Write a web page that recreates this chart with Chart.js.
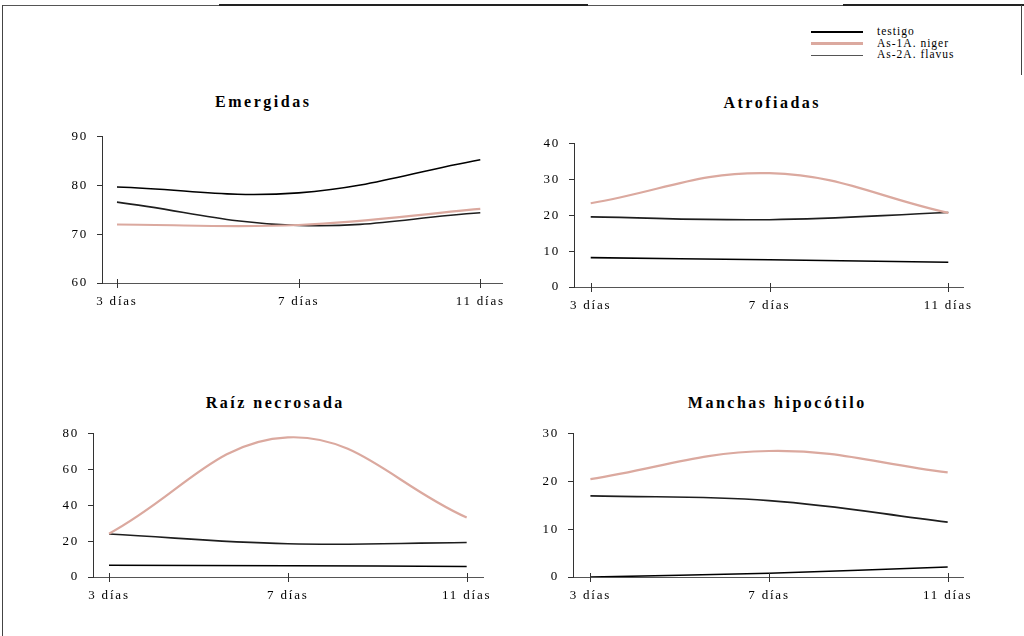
<!DOCTYPE html>
<html>
<head>
<meta charset="utf-8">
<script src="https://cdn.jsdelivr.net/npm/chart.js@4.4.1/dist/chart.umd.min.js"></script>
<style>
  html, body { margin: 0; padding: 0; background: #fff; }
  #page { position: relative; width: 1024px; height: 636px; overflow: hidden;
          font-family: 'Liberation Serif', 'Times New Roman', serif; color: #000; }
  #page canvas { position: absolute; }
  .title { position: absolute; transform: translate(-50%, -50%); font-weight: bold;
           font-size: 16px; letter-spacing: 2.5px; white-space: nowrap; padding-left: 2.5px; }
  .rule { position: absolute; }
  .key { position: absolute; height: 0; }
  .key .swatch { position: absolute; left: 0; width: 52px; }
  .key .label { position: absolute; left: 66px; top: 0; transform: translateY(-55%);
                font-size: 11.5px; letter-spacing: 1px; white-space: nowrap; }
</style>
</head>
<body>
<div id="page"></div>
<script>
// Days after sowing (x values) and their tick labels
const days = [3, 7, 11];
const dayLabels = ['3 días', '7 días', '11 días'];

// Treatments
const seriesNames = ['testigo', 'As-1A. niger', 'As-2A. flavus'];
const seriesColors = ['#000000', '#dba99f', '#1e1e1e'];
const seriesWidths = [1.6, 2.2, 1.6];

// Emergidas (%)
const emergidasTestigo = [79.7, 78.5, 85.3];
const emergidasNiger   = [72.0, 71.9, 75.2];
const emergidasFlavus  = [76.6, 71.8, 74.4];
const emergidasTicks   = [60, 70, 80, 90];

// Atrofiadas (%)
const atrofiadasTestigo = [8.2, 7.6, 6.9];
const atrofiadasNiger   = [23.4, 31.8, 20.7];
const atrofiadasFlavus  = [19.6, 18.8, 20.8];
const atrofiadasTicks   = [0, 10, 20, 30, 40];

// Raíz necrosada (%)
const raizTestigo = [6.6, 6.3, 5.9];
const raizNiger   = [24.2, 78.0, 33.2];
const raizFlavus  = [24.0, 18.6, 19.3];
const raizTicks   = [0, 20, 40, 60, 80];

// Manchas hipocótilo (%)
const manchasTestigo = [0.0, 0.8, 2.1];
const manchasNiger   = [20.5, 26.4, 21.9];
const manchasFlavus  = [17.0, 16.0, 11.5];
const manchasTicks   = [0, 10, 20, 30];

// Panel placement on the page
const panels = [
  { title: 'Emergidas', series: [emergidasTestigo, emergidasNiger, emergidasFlavus], ticks: emergidasTicks,
    box: { left: 40, top: 120, width: 492, height: 200, axisW: 62, xH: 37 }, xRange: [2.67, 11.478],
    titleAt: [262, 102] },
  { title: 'Atrofiadas', series: [atrofiadasTestigo, atrofiadasNiger, atrofiadasFlavus], ticks: atrofiadasTicks,
    box: { left: 514, top: 127, width: 479, height: 200, axisW: 60, xH: 40 }, xRange: [2.626, 11.329],
    titleAt: [771, 103] },
  { title: 'Raíz necrosada', series: [raizTestigo, raizNiger, raizFlavus], ticks: raizTicks,
    box: { left: 33, top: 417, width: 480, height: 200, axisW: 60, xH: 40 }, xRange: [2.642, 11.365],
    titleAt: [274, 403] },
  { title: 'Manchas hipocótilo', series: [manchasTestigo, manchasNiger, manchasFlavus], ticks: manchasTicks,
    box: { left: 513, top: 417, width: 480, height: 200, axisW: 60, xH: 40 }, xRange: [2.61, 11.343],
    titleAt: [776, 403] }
];

const page = document.getElementById('page');

// Outer frame
function rule(x, y, w, h, c) {
  const d = document.createElement('div');
  d.className = 'rule';
  Object.assign(d.style, { left: x + 'px', top: y + 'px', width: w + 'px', height: h + 'px', background: c });
  page.appendChild(d);
}
rule(2, 5, 217, 1, '#555');
rule(219, 4, 369, 2, '#222');
rule(588, 5, 255, 1, '#555');
rule(843, 4, 181, 2, '#222');
rule(2, 5, 1, 631, '#444');
rule(1021, 5, 1, 70, '#444');

// Legend
seriesNames.forEach((name, i) => {
  const row = document.createElement('div');
  row.className = 'key';
  row.style.left = '811px';
  row.style.top = (32 + i * 11.7) + 'px';
  const sw = document.createElement('div');
  sw.className = 'swatch';
  sw.style.height = (i === 1 ? 3 : 1.5) + 'px';
  sw.style.top = (i === 1 ? -1.5 : -0.75) + 'px';
  sw.style.background = i === 2 ? '#555' : seriesColors[i];
  const lb = document.createElement('div');
  lb.className = 'label';
  lb.textContent = name;
  row.appendChild(sw);
  row.appendChild(lb);
  page.appendChild(row);
});

// Wide lettering for axis text
const spacing = {
  id: 'spacing',
  beforeLayout(chart) { chart.ctx.letterSpacing = '1.8px'; },
  beforeDraw(chart) { chart.ctx.letterSpacing = '1.8px'; }
};

// Cross-shaped tick marks on the x axis
const xMarks = {
  id: 'xMarks',
  afterDraw(chart) {
    const xs = chart.scales.x;
    const ctx = chart.ctx;
    ctx.save();
    ctx.strokeStyle = '#333';
    ctx.lineWidth = 1;
    days.forEach(d => {
      const px = Math.round(xs.getPixelForValue(d)) + 0.5;
      ctx.beginPath();
      ctx.moveTo(px, xs.top - 4);
      ctx.lineTo(px, xs.top + 5);
      ctx.stroke();
    });
    ctx.restore();
  }
};

const tickFont = { family: "'Liberation Serif', 'Times New Roman', serif", size: 13 };

panels.forEach(p => {
  const t = document.createElement('div');
  t.className = 'title';
  t.textContent = p.title;
  t.style.left = p.titleAt[0] + 'px';
  t.style.top = p.titleAt[1] + 'px';
  page.appendChild(t);

  const cv = document.createElement('canvas');
  cv.width = p.box.width;
  cv.height = p.box.height;
  cv.style.left = p.box.left + 'px';
  cv.style.top = p.box.top + 'px';
  page.appendChild(cv);

  new Chart(cv, {
    type: 'line',
    data: {
      datasets: p.series.map((vals, i) => ({
        label: seriesNames[i],
        data: vals.map((v, k) => ({ x: days[k], y: v })),
        borderColor: seriesColors[i],
        borderWidth: seriesWidths[i],
        pointRadius: 0,
        tension: 0.4,
        fill: false
      }))
    },
    options: {
      responsive: false,
      animation: false,
      events: [],
      layout: { padding: { left: 0, top: 12, right: 30, bottom: 0 } },
      plugins: { legend: { display: false }, title: { display: false }, tooltip: { enabled: false } },
      scales: {
        x: {
          type: 'linear',
          min: p.xRange[0],
          max: p.xRange[1],
          afterBuildTicks(scale) { scale.ticks = days.map(v => ({ value: v })); },
          afterFit(scale) { scale.height = p.box.xH; },
          ticks: {
            font: tickFont, color: '#000', padding: 11, maxRotation: 0, autoSkip: false,
            callback: v => dayLabels[days.indexOf(v)]
          },
          grid: { display: false, drawTicks: false },
          border: { display: true, color: '#555', width: 1 }
        },
        y: {
          min: p.ticks[0],
          max: p.ticks[p.ticks.length - 1],
          afterBuildTicks(scale) { scale.ticks = p.ticks.map(v => ({ value: v })); },
          afterFit(scale) { scale.width = p.box.axisW; },
          ticks: { font: tickFont, color: '#000', padding: 9 },
          grid: { display: true, drawOnChartArea: false, drawTicks: true, tickLength: 5, color: '#333' },
          border: { display: true, color: '#333', width: 1 }
        }
      }
    },
    plugins: [spacing, xMarks]
  });
});
</script>
</body>
</html>
